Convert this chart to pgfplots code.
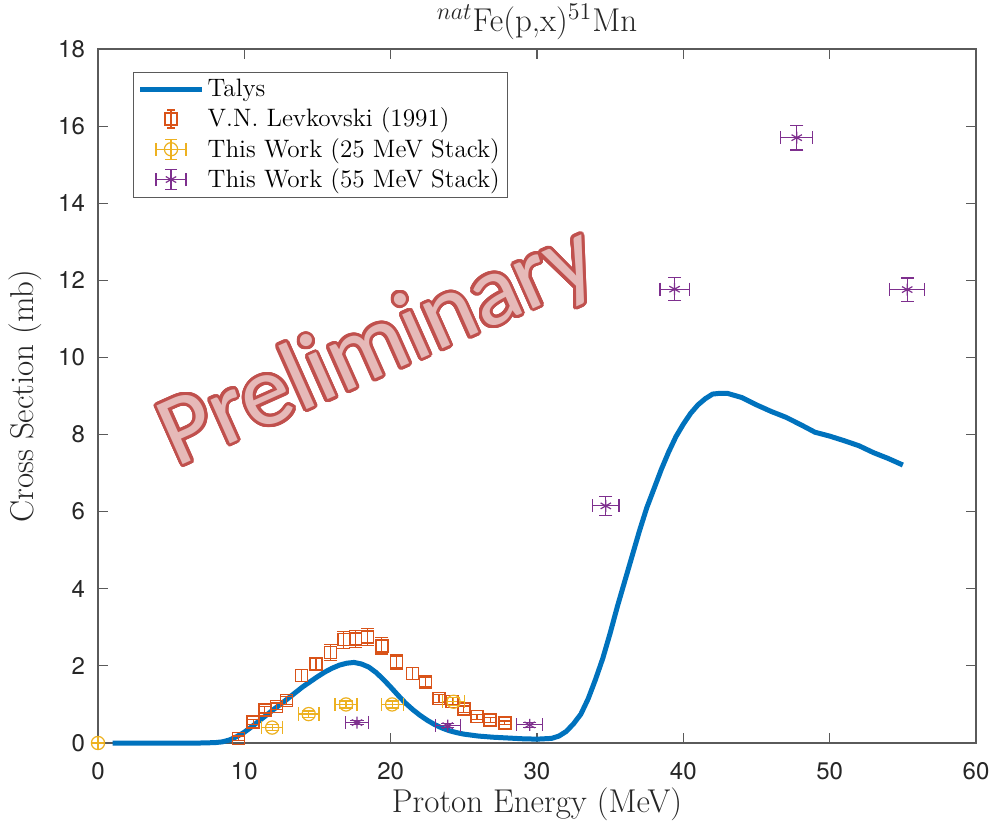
\documentclass[border=0pt]{standalone}
\usepackage{fontspec}
\usepackage{pgfplots}
\usepackage{pgfplotstable}
\pgfplotsset{compat=1.18}
\usepackage[copies]{contour}
\newfontfamily\heros{TeX Gyre Heros}
\newfontfamily\carlito{Carlito}
\definecolor{mBlue}{RGB}{0,114,189}
\definecolor{mOrange}{RGB}{217,83,25}
\definecolor{mYellow}{RGB}{237,177,32}
\definecolor{mPurple}{RGB}{126,47,142}
\definecolor{axgray}{RGB}{90,90,90}
\definecolor{wmLine}{RGB}{192,80,77}
\definecolor{wmFill}{RGB}{230,185,184}
\contourlength{1.5pt}
\contournumber{32}

% Levkovski (1991)
\pgfplotstableread{
x     y     ey
9.6   0.12  0.06
10.6  0.55  0.07
11.4  0.86  0.08
12.2  0.95  0.09
12.9  1.10  0.10
13.9  1.75  0.15
14.9  2.05  0.17
15.9  2.35  0.20
16.8  2.68  0.22
17.6  2.70  0.22
18.4  2.75  0.23
19.4  2.52  0.21
20.4  2.10  0.18
21.5  1.80  0.15
22.4  1.58  0.13
23.3  1.15  0.10
24.2  1.08  0.09
25.0  0.88  0.08
25.9  0.68  0.06
26.8  0.60  0.06
27.8  0.52  0.05
}\lev

% this work, 25 MeV stack
\pgfplotstableread{
x      y     ex    ey
0      0     0     0
11.9   0.40  0.70  0.08
14.4   0.75  0.70  0.08
16.95  1.00  0.75  0.09
20.1   1.00  0.75  0.09
24.3   1.07  0.75  0.10
}\twofive

% this work, 55 MeV stack
\pgfplotstableread{
x      y      ex    ey
17.7   0.53   0.78  0.05
23.9   0.45   0.85  0.05
29.5   0.47   0.90  0.06
34.7   6.15   0.90  0.25
39.4   11.77  1.00  0.30
47.75  15.70  1.10  0.32
55.3   11.76  1.20  0.30
}\fivefive

\pgfplotsset{
  legTalys/.style={legend image code/.code={
      \draw[mBlue, line width=2.5pt] (0pt,0pt) -- (31pt,0pt);}},
  legLev/.style={legend image code/.code={
      \draw[mOrange, line width=0.6pt] (15.5pt,-4.5pt) -- (15.5pt,4.5pt)
        (13.5pt,-4.5pt) -- (17.5pt,-4.5pt) (13.5pt,4.5pt) -- (17.5pt,4.5pt);
      \draw[mOrange, line width=0.6pt] (12.5pt,-3pt) rectangle (18.5pt,3pt);}},
  legTwo/.style={legend image code/.code={
      \draw[mYellow, line width=0.6pt] (8pt,0pt) -- (23pt,0pt)
        (8pt,-3.3pt) -- (8pt,3.3pt) (23pt,-3.3pt) -- (23pt,3.3pt)
        (15.5pt,-5pt) -- (15.5pt,5pt) (12.5pt,-5pt) -- (18.5pt,-5pt)
        (12.5pt,5pt) -- (18.5pt,5pt);
      \draw[mYellow, line width=0.6pt] (15.5pt,0pt) circle (3.3pt);}},
  legFive/.style={legend image code/.code={
      \draw[mPurple, line width=0.6pt] (8pt,0pt) -- (23pt,0pt)
        (8pt,-3.3pt) -- (8pt,3.3pt) (23pt,-3.3pt) -- (23pt,3.3pt)
        (15.5pt,-5pt) -- (15.5pt,5pt) (12.5pt,-5pt) -- (18.5pt,-5pt)
        (12.5pt,5pt) -- (18.5pt,5pt);
      \draw[mPurple, line width=0.6pt] plot[mark=asterisk, mark size=3pt] coordinates {(15.5pt,0pt)};}},
  cap/.style={only marks, forget plot, mark size=3.3pt, color=#1,
      mark options={draw=#1, line width=0.6pt}},
  ebar/.style={color=#1, forget plot, draw=none, mark=none},
}

\begin{document}
\begin{tikzpicture}
\begin{axis}[
    scale only axis,
    width=439pt, height=347pt,
    xmin=0, xmax=60, ymin=0, ymax=18,
    xtick={0,10,...,60}, ytick={0,2,...,18},
    tick align=inside, major tick length=5pt,
    axis line style={draw=axgray, line width=0.6pt},
    tick style={draw=axgray, line width=0.6pt},
    ticklabel style={font=\heros\fontsize{12}{14}\selectfont, text=black!85},
    /pgf/number format/assume math mode=true,
    xticklabel style={yshift=-6pt},
    yticklabel style={xshift=-3pt},
    xlabel={\fontsize{16.5}{19}\selectfont Proton Energy (MeV)},
    ylabel={\fontsize{16.5}{19}\selectfont Cross Section (mb)},
    label style={text=black!85},
    xlabel style={at={([yshift=-34.5pt]axis description cs:0.5,0)}, anchor=base},
    ylabel style={at={([xshift=-32pt]axis description cs:0,0.5)}, anchor=base},
    clip=false,
    legend style={at={(0.04,0.967)}, anchor=north west, draw=axgray,
        font=\fontsize{12.6}{14}\selectfont, row sep=1pt, inner xsep=2pt, inner ysep=1.8pt,
        nodes={inner sep=1.6pt}},
    legend cell align=left,
]
\coordinate (sw) at (rel axis cs:0,0);
\coordinate (ne) at (rel axis cs:1,1);

\addplot[mBlue, line width=2.5pt, line join=round, legTalys]
coordinates {
(1,0)(2,0)(3,0)(4,0)(5,0)(6,0)(7,0)(8,0.01)(8.5,0.03)(9,0.08)(9.5,0.17)
(10,0.28)(10.5,0.42)(11,0.57)(11.5,0.72)(12,0.87)(12.5,1.01)(13,1.16)
(13.5,1.31)(14,1.46)(14.5,1.59)(15,1.72)(15.5,1.84)(16,1.94)(16.5,2.02)
(17,2.07)(17.5,2.09)(18,2.05)(18.5,1.97)(19,1.83)(19.5,1.65)(20,1.45)
(20.5,1.24)(21,1.04)(21.5,0.87)(22,0.72)(22.5,0.59)(23,0.48)(23.5,0.39)
(24,0.32)(24.5,0.27)(25,0.23)(26,0.18)(27,0.15)(28,0.13)(29,0.11)(30,0.10)
(31,0.12)(31.5,0.18)(32,0.30)(32.5,0.50)(33,0.75)(33.5,1.15)(34,1.65)
(34.5,2.2)(35,2.85)(35.5,3.55)(36,4.2)(36.5,4.85)(37,5.5)(37.5,6.1)(38,6.6)
(38.5,7.1)(39,7.55)(39.5,7.95)(40,8.27)(40.5,8.55)(41,8.77)(41.5,8.93)
(42,9.05)(42.5,9.07)(43,9.07)(44,8.96)(45,8.77)(46,8.6)(47,8.45)(48,8.26)
(49,8.06)(50,7.96)(51,7.84)(52,7.71)(53,7.53)(54,7.38)(55,7.21)};
\addlegendentry{Talys}

% Levkovski: error bars, caps, then squares
\addplot[ebar=mOrange,
    error bars/.cd, y dir=both, y explicit, error mark=none,
    error bar style={draw=mOrange, line width=0.6pt}]
  table[x=x, y=y, y error=ey] {\lev};
\addplot[cap=mOrange, mark=-] table[x=x, y expr=\thisrow{y}+\thisrow{ey}] {\lev};
\addplot[cap=mOrange, mark=-] table[x=x, y expr=\thisrow{y}-\thisrow{ey}] {\lev};
\addplot[color=mOrange, only marks, mark=square, mark size=3pt,
    mark options={draw=mOrange, fill=none, line width=0.7pt}, legLev]
  table[x=x, y=y] {\lev};
\addlegendentry{V.N. Levkovski (1991)}

% 25 MeV stack
\addplot[ebar=mYellow,
    error bars/.cd, x dir=both, x explicit, y dir=both, y explicit, error mark=none,
    error bar style={draw=mYellow, line width=0.6pt}]
  table[x=x, y=y, x error=ex, y error=ey] {\twofive};
\addplot[cap=mYellow, mark=-] table[x=x, y expr=\thisrow{y}+\thisrow{ey}] {\twofive};
\addplot[cap=mYellow, mark=-] table[x=x, y expr=\thisrow{y}-\thisrow{ey}] {\twofive};
\addplot[cap=mYellow, mark=|] table[x expr=\thisrow{x}+\thisrow{ex}, y=y] {\twofive};
\addplot[cap=mYellow, mark=|] table[x expr=\thisrow{x}-\thisrow{ex}, y=y] {\twofive};
\addplot[color=mYellow, only marks, mark=o, mark size=3.3pt,
    mark options={draw=mYellow, fill=none, line width=0.6pt}, legTwo]
  table[x=x, y=y] {\twofive};
\addlegendentry{This Work (25 MeV Stack)}

% 55 MeV stack
\addplot[ebar=mPurple,
    error bars/.cd, x dir=both, x explicit, y dir=both, y explicit, error mark=none,
    error bar style={draw=mPurple, line width=0.6pt}]
  table[x=x, y=y, x error=ex, y error=ey] {\fivefive};
\addplot[cap=mPurple, mark=-] table[x=x, y expr=\thisrow{y}+\thisrow{ey}] {\fivefive};
\addplot[cap=mPurple, mark=-] table[x=x, y expr=\thisrow{y}-\thisrow{ey}] {\fivefive};
\addplot[cap=mPurple, mark=|] table[x expr=\thisrow{x}+\thisrow{ex}, y=y] {\fivefive};
\addplot[cap=mPurple, mark=|] table[x expr=\thisrow{x}-\thisrow{ex}, y=y] {\fivefive};
\addplot[color=mPurple, only marks, mark=asterisk, mark size=3pt,
    mark options={draw=mPurple, line width=0.6pt}, legFive]
  table[x=x, y=y] {\fivefive};
\addlegendentry{This Work (55 MeV Stack)\hspace{5pt}}

\node[anchor=base, text=black!85, font=\fontsize{16.5}{19}\selectfont]
  at ([yshift=8.5pt]rel axis cs:0.5,1) {$^{nat}$Fe(p,x)$^{51}$Mn};

\node[rotate=24, text=wmFill, font=\carlito\fontsize{50}{52}\selectfont]
  at (axis cs:19.2,10.2) {\contour{wmLine}{Preliminary}};
\end{axis}
\pgfresetboundingbox
\path ([shift={(-49pt,-41pt)}]sw) rectangle ([shift={(9.5pt,24.5pt)}]ne);
\end{tikzpicture}
\end{document}
